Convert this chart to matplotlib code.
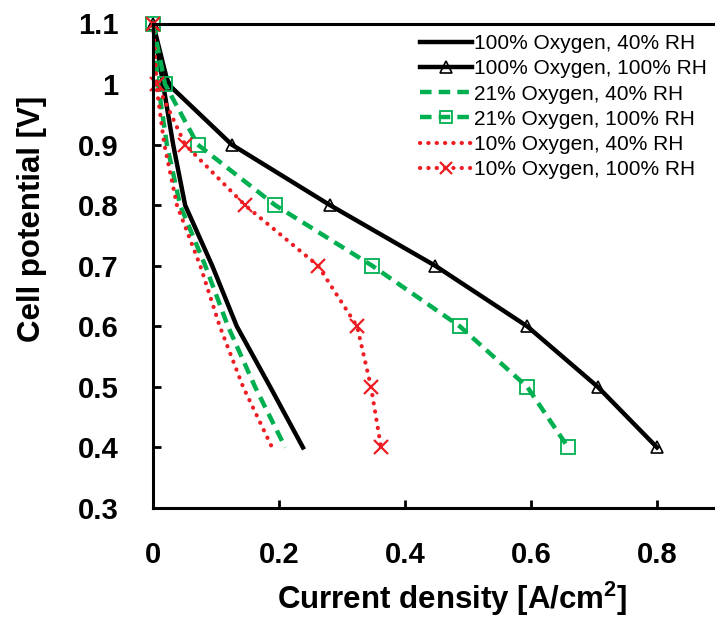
import matplotlib
matplotlib.use("Agg")
import matplotlib.pyplot as plt

# ---- data ----
voltage = [1.1, 1.0, 0.9, 0.8, 0.7, 0.6, 0.5, 0.4]
o100_rh40 = [0.0, 0.016, 0.032, 0.051, 0.094, 0.133, 0.186, 0.238]
o100_rh100 = [0.0, 0.024, 0.125, 0.281, 0.448, 0.594, 0.706, 0.800]
o21_rh40 = [0.0, 0.008, 0.022, 0.043, 0.083, 0.119, 0.162, 0.210]
o21_rh100 = [0.0, 0.019, 0.071, 0.194, 0.348, 0.487, 0.594, 0.659]
o10_rh40 = [0.0, 0.005, 0.018, 0.038, 0.075, 0.106, 0.143, 0.189]
o10_rh100 = [0.0, 0.006, 0.051, 0.146, 0.262, 0.324, 0.346, 0.362]

labels = ["100% Oxygen, 40% RH", "100% Oxygen, 100% RH",
          "21% Oxygen, 40% RH", "21% Oxygen, 100% RH",
          "10% Oxygen, 40% RH", "10% Oxygen, 100% RH"]
xticks = [0, 0.2, 0.4, 0.6, 0.8]
xticklabels = ["0", "0.2", "0.4", "0.6", "0.8"]
yticks = [0.3, 0.4, 0.5, 0.6, 0.7, 0.8, 0.9, 1.0, 1.1]
yticklabels = ["0.3", "0.4", "0.5", "0.6", "0.7", "0.8", "0.9", "1", "1.1"]

plt.rcParams['font.family'] = ['Liberation Sans', 'DejaVu Sans']
plt.rcParams['mathtext.fontset'] = 'custom'
plt.rcParams['mathtext.rm'] = 'Liberation Sans:bold'
plt.rcParams['mathtext.bf'] = 'Liberation Sans:bold'

W, H = 715, 617
fig = plt.figure(figsize=(W / 100, H / 100), dpi=100)
ax = fig.add_axes([153 / W, 1 - 508 / H, 567 / W, 484.5 / H])

BLACK = "#000000"
GREEN = "#00B050"
RED = "#EE1D23"

ax.plot(o100_rh40, voltage, color=BLACK, lw=3.2, label=labels[0])
ax.plot(o100_rh100, voltage, color=BLACK, lw=3.2, marker='^', ms=9, mfc='none',
        mec=BLACK, mew=1.2, label=labels[1], clip_on=False)
ax.plot(o21_rh40, voltage, color=GREEN, lw=3.2, ls=(0, (2.6, 1.6)), label=labels[2])
ax.plot(o21_rh100, voltage, color=GREEN, lw=3.2, ls=(0, (2.6, 1.6)), marker='s', ms=10,
        mfc='none', mec=GREEN, mew=1.3, label=labels[3], clip_on=False)
ax.plot(o10_rh40, voltage, color=RED, lw=3.0, ls=(0, (0.05, 1.95)),
        dash_capstyle='round', label=labels[4])
ax.plot(o10_rh100, voltage, color=RED, lw=3.0, ls=(0, (0.05, 1.95)),
        dash_capstyle='round', marker='x', ms=10, mec=RED, mew=1.6, label=labels[5],
        clip_on=False)

ax.set_xlim(0, 0.9)
ax.set_ylim(0.3, 1.1)
ax.set_xticks(xticks)
ax.set_xticklabels(xticklabels)
ax.set_yticks(yticks)
ax.set_yticklabels(yticklabels)

for s in ['left', 'bottom', 'top']:
    ax.spines[s].set_linewidth(2.2)
ax.spines['right'].set_visible(False)
ax.tick_params(axis='both', direction='in', length=6, width=2, labelsize=21)
ax.tick_params(axis='x', pad=24)
ax.tick_params(axis='y', pad=25)
for t in ax.get_xticklabels() + ax.get_yticklabels():
    t.set_fontweight('bold')

fig.text(452 / W, 1 - 609 / H, r"Current density [A/cm$^{2}$]", ha='center', va='baseline',
         fontsize=22.5, fontweight='bold')
fig.text(32 / W, 1 - 219 / H, "Cell potential [V]", ha='center', va='center',
         rotation=90, fontsize=22.5, fontweight='bold')

leg = fig.legend(loc='upper left', bbox_to_anchor=(420 / W, 1 - 34 / H),
                 frameon=False, fontsize=15, handlelength=2.5, handletextpad=0.1,
                 labelspacing=0.3, borderpad=0, borderaxespad=0, markerscale=0.9)

fig.savefig("out.png", dpi=100)
